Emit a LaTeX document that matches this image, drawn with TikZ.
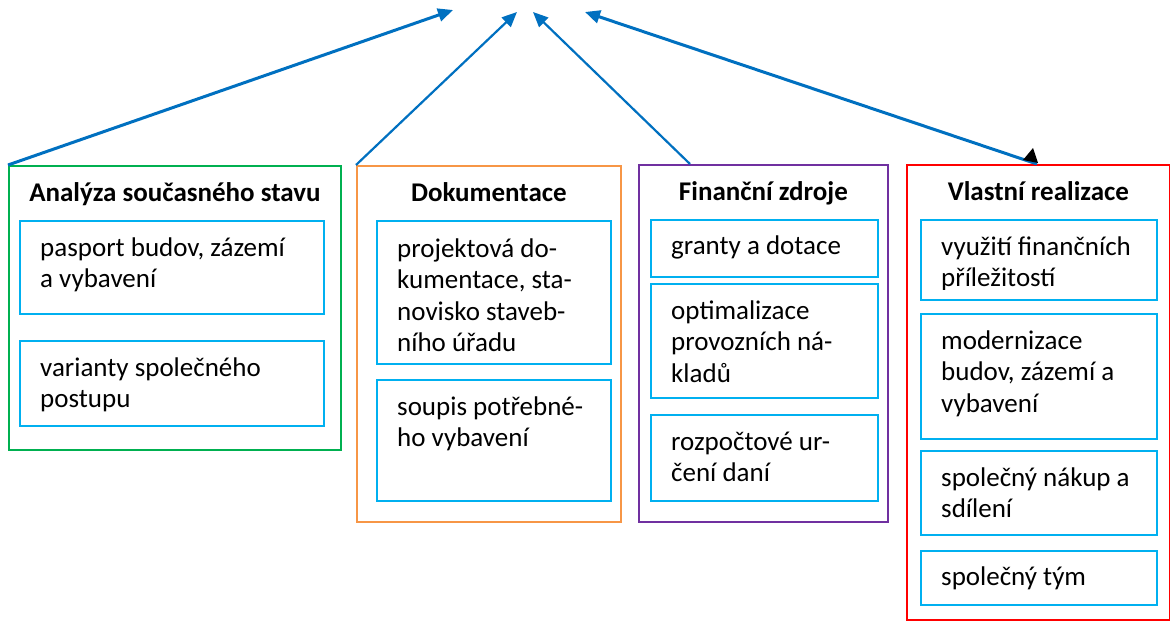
\documentclass[tikz,border=0pt]{standalone}
\usepackage{fontspec}
\setmainfont{Carlito}
\usetikzlibrary{arrows.meta}
\definecolor{cgreen}{HTML}{00B050}
\definecolor{corange}{HTML}{F79646}
\definecolor{cpurple}{HTML}{7030A0}
\definecolor{cred}{HTML}{FF0000}
\definecolor{cinner}{HTML}{00B0F0}
\definecolor{carrow}{HTML}{0070C0}
\newcommand{\mylines}[1]{\begin{tabular}[t]{@{}l@{}}#1\end{tabular}}
\begin{document}
\begin{tikzpicture}[x=1pt,y=-1pt,
  outerbox/.style={draw, line width=1.8pt, anchor=north west, inner sep=0pt},
  ibox/.style={draw=cinner, line width=2pt, anchor=north west, inner sep=0pt},
  itext/.style={anchor=base west, inner sep=0pt, font=\fontsize{27}{31.5}\selectfont},
  ttl/.style={anchor=base, inner sep=0pt, font=\fontsize{27}{31.5}\selectfont\bfseries},
  arr/.style={draw=carrow, -{Triangle[length=15pt,width=13pt]}}
]
\useasboundingbox (0,0) rectangle (1170,621);

% Analyza
\node[outerbox, draw=cgreen, minimum width=332pt, minimum height=284pt] (A) at (8,165) {};
\node[ttl] (At) at ([yshift=-36pt]A.north) {Analýza současného stavu};
\node[ibox, minimum width=304pt, minimum height=93pt] (A1) at (19,220) {};
\node[itext] (A1t) at ([shift={(21pt,-36pt)}]A1.north west) {\mylines{pasport budov, zázemí\\a vybavení}};
\node[ibox, minimum width=304pt, minimum height=85pt] (A2) at (19,340) {};
\node[itext] (A2t) at ([shift={(21pt,-36pt)}]A2.north west) {\mylines{varianty společného\\postupu}};

% Dokumentace
\node[outerbox, draw=corange, minimum width=264pt, minimum height=356pt] (D) at (356,165) {};
\node[ttl] (Dt) at ([yshift=-36pt]D.north) {Dokumentace};
\node[ibox, minimum width=234pt, minimum height=143pt] (D1) at (376,220) {};
\node[itext] (D1t) at ([shift={(21pt,-37pt)}]D1.north west) {\mylines{projektová do-\\kumentace, sta-\\novisko staveb-\\ního úřadu}};
\node[ibox, minimum width=234pt, minimum height=121pt] (D2) at (376,379) {};
\node[itext] (D2t) at ([shift={(21pt,-36pt)}]D2.north west) {\mylines{soupis potřebné-\\ho vybavení}};

% Financni zdroje
\node[outerbox, draw=cpurple, minimum width=249pt, minimum height=357pt] (F) at (638,164) {};
\node[ttl] (Ft) at ([yshift=-36pt]F.north) {Finanční zdroje};
\node[ibox, minimum width=227pt, minimum height=57pt] (F1) at (650,219) {};
\node[itext] (F1t) at ([shift={(21pt,-35pt)}]F1.north west) {granty a dotace};
\node[ibox, minimum width=227pt, minimum height=114pt] (F2) at (650,283) {};
\node[itext] (F2t) at ([shift={(21pt,-36pt)}]F2.north west) {\mylines{optimalizace\\provozních ná-\\kladů}};
\node[ibox, minimum width=227pt, minimum height=86pt] (F3) at (650,414) {};
\node[itext] (F3t) at ([shift={(21pt,-36pt)}]F3.north west) {\mylines{rozpočtové ur-\\čení daní}};

% Vlastni realizace
\node[outerbox, draw=cred, minimum width=263pt, minimum height=455pt] (V) at (906,164) {};
\node[ttl] (Vt) at ([yshift=-36pt]V.north) {Vlastní realizace};
\node[ibox, minimum width=236pt, minimum height=80pt] (V1) at (920,219) {};
\begin{scope}
\clip (920,219) rectangle (1156,289);
\node[itext] (V1t) at ([shift={(21pt,-36pt)}]V1.north west) {\mylines{využití finančních\\příležitostí}};
\end{scope}
\node[ibox, minimum width=236pt, minimum height=125pt] (V2) at (920,313) {};
\node[itext] (V2t) at ([shift={(21pt,-36pt)}]V2.north west) {\mylines{modernizace\\budov, zázemí a\\vybavení}};
\node[ibox, minimum width=236pt, minimum height=84pt] (V3) at (920,450) {};
\node[itext] (V3t) at ([shift={(21pt,-36pt)}]V3.north west) {\mylines{společný nákup a\\sdílení}};
\node[ibox, minimum width=236pt, minimum height=54pt] (V4) at (920,550) {};
\node[itext] (V4t) at ([shift={(21pt,-35pt)}]V4.north west) {společný tým};

% arrows
\coordinate (t1) at (453,10);
\coordinate (t2) at (517,12);
\coordinate (t3) at (533,12);
\coordinate (t4) at (585,12);
\coordinate (s3) at ([xshift=52pt]F.north west);
\coordinate (s4) at ([xshift=131pt]V.north west);
\draw[arr, line width=3pt] (A.north west) -- (t1);
\draw[arr, line width=2.2pt] (D.north west) -- (t2);
\draw[arr, line width=2.2pt] (s3) -- (t3);
\draw[arr, line width=3pt] (s4) -- (t4);
\fill[black] (1033,148) -- (1023,160) -- (1038,163) -- cycle;
\end{tikzpicture}
\end{document}
